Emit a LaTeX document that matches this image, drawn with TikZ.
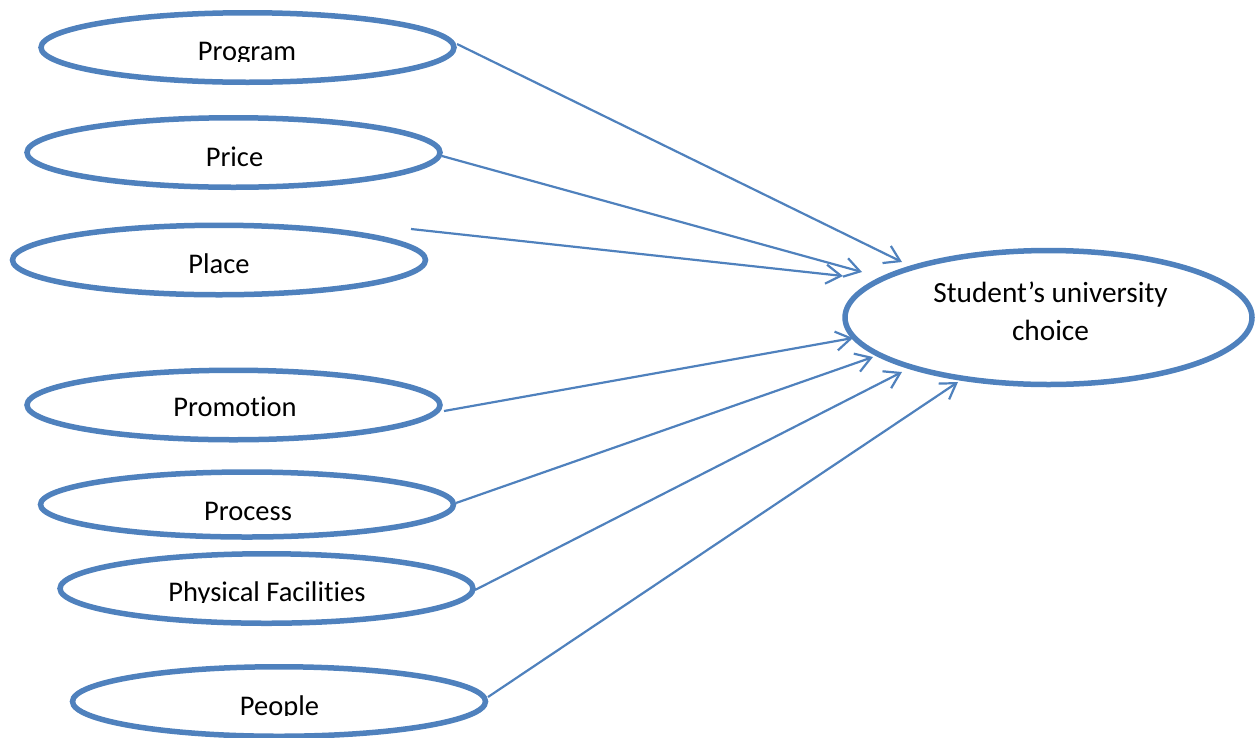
\documentclass[tikz,border=0pt]{standalone}
\usepackage{fontspec}
\setmainfont{Carlito}[Ligatures=CommonOff]
\usetikzlibrary{shapes.geometric,arrows.meta}
\definecolor{oblue}{HTML}{4F81BD}
\tikzset{
  oval/.style={ellipse, draw=oblue, line width=5.5pt, fill=white, inner sep=0pt, outer sep=0pt},
  small/.style={oval, minimum width=413pt, minimum height=69.5pt},
  big/.style={oval, minimum width=407pt, minimum height=134pt},
  lbl/.style={anchor=base, inner sep=0pt, font=\fontsize{28.5}{34}\selectfont},
  conn/.style={draw=oblue, line width=2.2pt, -{Straight Barb[length=15pt,width=19pt,line width=2.2pt]}}
}
\newcommand{\cliplabel}[4]{%
  \begin{scope}
    \clip (#2-200,#3-40) rectangle (#2+200,#3+0.5);
    \node[lbl] (#1) at (#2,#3) {#4};
  \end{scope}}
\begin{document}
\begin{tikzpicture}[x=1pt,y=-1pt]
\useasboundingbox (0,0) rectangle (1255,737);
% source ellipses
\node[small] (prog) at (247.5,47.5) {};
\node[small] (price) at (233.5,152.5) {};
\node[small] (place) at (219,260) {};
\node[small] (promo) at (233.5,405) {};
\node[small, minimum height=65pt] (proc) at (247,504.5) {};
\node[small] (phys) at (266.5,588.5) {};
\node[small] (people) at (279,701.5) {};
% target
\node[big] (choice) at (1048.5,317.5) {};
\node[anchor=base, inner sep=0pt, font=\fontsize{29.3}{38}\selectfont, align=center] (tchoice) at (1050.5,340) {Student’s university\\choice};
% labels (clipped at baseline as in the original)
\cliplabel{tprog}{247}{60.5}{Program}
\cliplabel{tprice}{234.5}{166.5}{Price}
\cliplabel{tplace}{219}{273.5}{Place}
\cliplabel{tpromo}{235}{416.5}{Promotion}
\cliplabel{tproc}{248}{520}{Process}
\cliplabel{tphys}{267}{601.5}{Physical Facilities}
\cliplabel{tpeople}{279.5}{715}{People}
% connector end points
\coordinate (s1) at (457,44);
\coordinate (e1) at (902,262);
\coordinate (s2) at (442,156);
\coordinate (e2) at (862,272);
\coordinate (s3) at (411,229);
\coordinate (e3) at (843,276);
\coordinate (s4) at (444,411);
\coordinate (e4) at (853,338);
\coordinate (s5) at (456,503);
\coordinate (e5) at (873,357);
\coordinate (s6) at (475,590);
\coordinate (e6) at (902,372);
\coordinate (s7) at (488,697);
\coordinate (e7) at (958,382);
\draw[conn] (s1) -- (e1);
\draw[conn] (s2) -- (e2);
\draw[conn] (s3) -- (e3);
\draw[conn] (s4) -- (e4);
\draw[conn] (s5) -- (e5);
\draw[conn] (s6) -- (e6);
\draw[conn] (s7) -- (e7);
\end{tikzpicture}
\end{document}
